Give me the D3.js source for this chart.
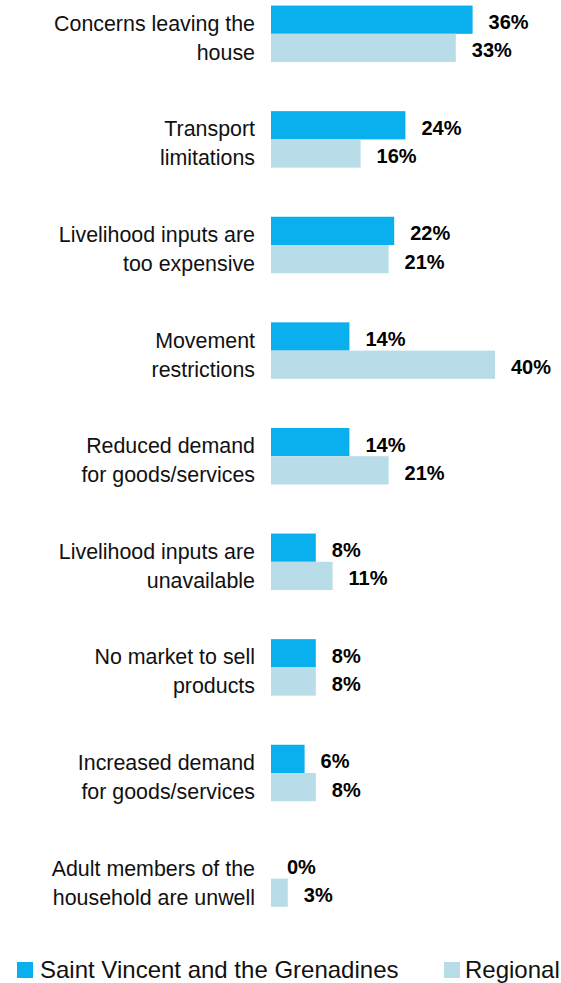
<!DOCTYPE html>
<html>
<head>
<meta charset="utf-8">
<script src="https://cdn.jsdelivr.net/npm/d3@7"></script>
<style>
    html, body { margin: 0; padding: 0; background: #ffffff; }
    svg { display: block; font-family: "Liberation Sans", Arial, sans-serif; }
</style>
</head>
<body>
<script>
'use strict';

/* globals d3 */

// Categories (each entry already split the way the labels wrap)
var categories = [
    ['Concerns leaving the', 'house'],
    ['Transport', 'limitations'],
    ['Livelihood inputs are', 'too expensive'],
    ['Movement', 'restrictions'],
    ['Reduced demand', 'for goods/services'],
    ['Livelihood inputs are', 'unavailable'],
    ['No market to sell', 'products'],
    ['Increased demand', 'for goods/services'],
    ['Adult members of the', 'household are unwell']
];

var seriesNames = ['Saint Vincent and the Grenadines', 'Regional'];
var vincentValues = [36, 24, 22, 14, 14, 8, 8, 6, 0];
var regionalValues = [33, 16, 21, 40, 21, 11, 8, 8, 3];
var seriesColors = ['#0ab0ee', '#b8dde9'];

var settings = {
    width: 561,
    height: 983,
    bar_left: 271,
    bar_right: 495,
    label_right: 255,
    group_top: -19,
    group_step: 105.6,
    inner_padding: 0.465,
    label_size: 21.4,
    value_size: 20,
    legend_size: 24
};

var svg = d3.select('body').append('svg')
    .attr('width', settings.width)
    .attr('height', settings.height);

var ids = categories.map(function (c, i) { return 'c' + i; });

// Scales
var x = d3.scaleLinear()
    .domain([0, 40])
    .range([settings.bar_left, settings.bar_right]);

var y = d3.scaleBand()
    .domain(ids)
    .range([settings.group_top, settings.group_top + ids.length * settings.group_step])
    .paddingInner(settings.inner_padding)
    .paddingOuter(settings.inner_padding / 2);

var sub = d3.scaleBand()
    .domain([0, 1])
    .range([0, y.bandwidth()]);

var rows = ids.map(function (id, i) {
    return { id: id, lines: categories[i], values: [vincentValues[i], regionalValues[i]] };
});

var groups = svg.selectAll('.group')
    .data(rows)
    .enter().append('g')
    .attr('class', 'group')
    .attr('transform', function (d) { return 'translate(0,' + y(d.id) + ')'; });

// Bars
groups.selectAll('rect')
    .data(function (d) { return d.values; })
    .enter().append('rect')
    .attr('x', x(0))
    .attr('y', function (v, j) { return sub(j); })
    .attr('width', function (v) { return x(v) - x(0); })
    .attr('height', sub.bandwidth())
    .attr('fill', function (v, j) { return seriesColors[j]; });

// Value labels
groups.selectAll('.value')
    .data(function (d) { return d.values; })
    .enter().append('text')
    .attr('class', 'value')
    .attr('x', function (v) { return x(v) + 16; })
    .attr('y', function (v, j) { return sub(j) + sub.bandwidth() / 2 + 9.5; })
    .attr('font-size', settings.value_size)
    .attr('font-weight', 'bold')
    .attr('fill', '#000')
    .text(function (v) { return v + '%'; });

// Category labels
groups.append('text')
    .attr('class', 'label')
    .attr('text-anchor', 'end')
    .attr('font-size', settings.label_size)
    .attr('fill', '#111')
    .selectAll('tspan')
    .data(function (d) { return d.lines; })
    .enter().append('tspan')
    .attr('x', settings.label_right)
    .attr('y', function (l, k) { return y.bandwidth() / 2 - 3 + k * 29; })
    .text(function (l) { return l; });

// Legend
var legend = svg.append('g').attr('class', 'legend');
var legendX = [17, 444];

legend.selectAll('rect')
    .data(seriesNames)
    .enter().append('rect')
    .attr('x', function (n, i) { return legendX[i]; })
    .attr('y', 962)
    .attr('width', 16)
    .attr('height', 16)
    .attr('fill', function (n, i) { return seriesColors[i]; });

legend.selectAll('text')
    .data(seriesNames)
    .enter().append('text')
    .attr('x', function (n, i) { return legendX[i] + (i ? 21 : 23); })
    .attr('y', 978)
    .attr('font-size', settings.legend_size)
    .attr('fill', '#111')
    .text(function (n) { return n; });
</script>
</body>
</html>
